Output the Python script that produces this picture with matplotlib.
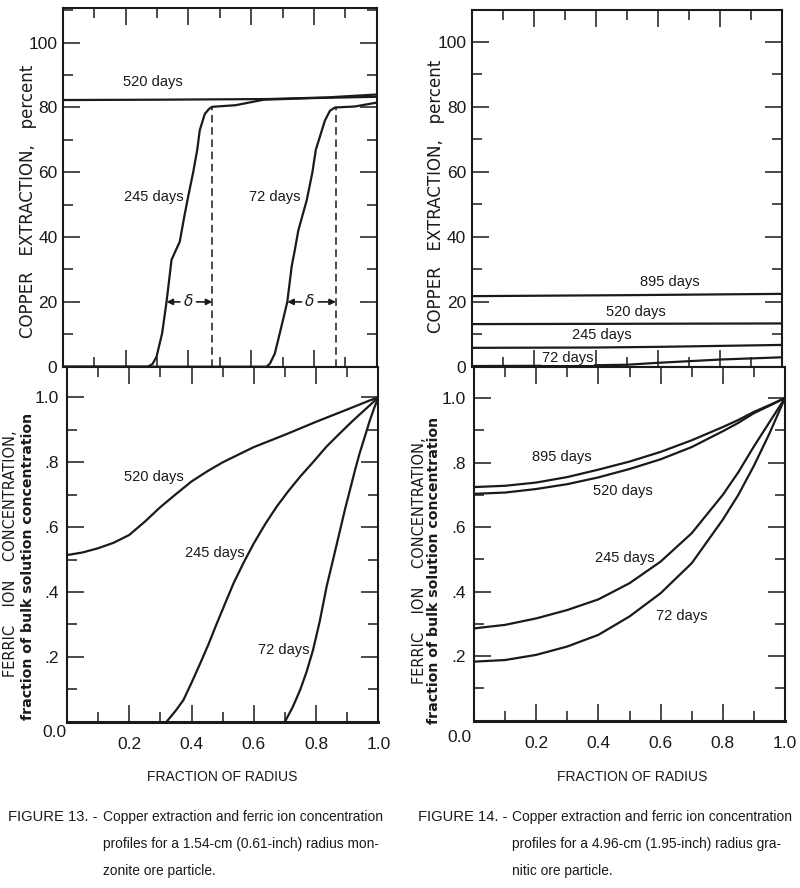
import matplotlib
matplotlib.use("Agg")
import matplotlib.pyplot as plt
from matplotlib.ticker import MultipleLocator, FixedLocator, FixedFormatter, NullFormatter

# ---------------- data ----------------
# Figure 13 (left) - copper extraction, percent
f13_cu_520_x = [0.0, 0.3, 0.65, 0.84, 1.0]
f13_cu_520_y = [82.3, 82.4, 82.6, 83.1, 84.0]
f13_cu_245_x = [0.0, 0.27, 0.285, 0.298, 0.316, 0.33, 0.346, 0.36, 0.372, 0.386, 0.399,
                0.415, 0.428, 0.436, 0.452, 0.465, 0.475, 0.55, 0.64, 0.8, 1.0]
f13_cu_245_y = [0.0, 0.0, 0.8, 3.0, 10.3, 20.0, 33.0, 36.0, 38.5, 46.0, 52.5,
                60.0, 67.0, 73.0, 78.0, 79.5, 80.2, 80.7, 82.4, 82.9, 83.3]
f13_cu_72_x = [0.0, 0.649, 0.66, 0.675, 0.691, 0.715, 0.729, 0.739, 0.75, 0.777, 0.795,
               0.806, 0.819, 0.835, 0.851, 0.867, 0.93, 1.0]
f13_cu_72_y = [0.0, 0.0, 1.0, 4.0, 10.3, 20.0, 31.0, 36.0, 42.0, 51.4, 60.0,
               67.0, 71.0, 76.0, 79.0, 80.0, 80.3, 81.5]
f13_delta_245 = (0.33, 0.476)   # reaction-zone width, 245 days
f13_delta_72 = (0.715, 0.87)    # reaction-zone width, 72 days

# Figure 13 (left) - ferric ion concentration, fraction of bulk
f13_fe_520_x = [0.0, 0.05, 0.1, 0.15, 0.2, 0.25, 0.3, 0.35, 0.4, 0.45, 0.5, 0.6, 0.7, 0.8, 0.9, 0.97, 1.0]
f13_fe_520_y = [0.514, 0.522, 0.535, 0.552, 0.576, 0.617, 0.662, 0.702, 0.741, 0.772, 0.80,
                0.847, 0.885, 0.925, 0.963, 0.99, 1.0]
f13_fe_245_x = [0.32, 0.35, 0.374, 0.40, 0.428, 0.455, 0.48, 0.508, 0.535, 0.567, 0.60, 0.637,
                0.674, 0.71, 0.749, 0.79, 0.834, 0.877, 0.92, 0.96, 1.0]
f13_fe_245_y = [0.0, 0.035, 0.067, 0.12, 0.18, 0.24, 0.30, 0.365, 0.427, 0.49, 0.55, 0.61,
                0.664, 0.71, 0.756, 0.80, 0.849, 0.89, 0.93, 0.965, 1.0]
f13_fe_72_x = [0.70, 0.725, 0.749, 0.77, 0.79, 0.812, 0.834, 0.856, 0.877, 0.893, 0.909,
               0.925, 0.94, 0.957, 0.973, 0.987, 1.0]
f13_fe_72_y = [0.0, 0.045, 0.098, 0.155, 0.22, 0.31, 0.417, 0.505, 0.59, 0.655, 0.715,
               0.775, 0.828, 0.88, 0.93, 0.968, 1.0]

# Figure 14 (right) - copper extraction, percent
f14_cu_895_x = [0.0, 0.5, 1.0]
f14_cu_895_y = [21.7, 22.0, 22.4]
f14_cu_520_x = [0.0, 0.5, 1.0]
f14_cu_520_y = [13.1, 13.2, 13.3]
f14_cu_245_x = [0.0, 0.4, 0.6, 0.8, 1.0]
f14_cu_245_y = [5.8, 5.9, 6.1, 6.4, 6.7]
f14_cu_72_x = [0.0, 0.3, 0.5, 0.6, 0.7, 0.8, 1.0]
f14_cu_72_y = [0.2, 0.3, 0.6, 1.2, 1.7, 2.2, 2.9]

# Figure 14 (right) - ferric ion concentration
f14_fe_x = [0.0, 0.1, 0.2, 0.3, 0.4, 0.5, 0.6, 0.7, 0.8, 0.85, 0.9, 0.95, 1.0]
f14_fe_895_y = [0.724, 0.728, 0.738, 0.755, 0.778, 0.803, 0.833, 0.869, 0.91, 0.932, 0.957, 0.978, 1.0]
f14_fe_520_y = [0.703, 0.707, 0.718, 0.733, 0.754, 0.78, 0.81, 0.848, 0.897, 0.923, 0.953, 0.976, 1.0]
f14_fe_245_y = [0.286, 0.297, 0.317, 0.343, 0.376, 0.426, 0.493, 0.581, 0.70, 0.77, 0.85, 0.925, 1.0]
f14_fe_72_y = [0.183, 0.188, 0.204, 0.23, 0.266, 0.323, 0.395, 0.488, 0.623, 0.70, 0.79, 0.89, 1.0]

cu_ticks = [0, 20, 40, 60, 80, 100]
cu_ticklabels = ["0", "20", "40", "60", "80", "100"]
fe_ticks = [0.2, 0.4, 0.6, 0.8, 1.0]
fe_ticklabels = [".2", ".4", ".6", ".8", "1.0"]
x_ticks = [0.2, 0.4, 0.6, 0.8, 1.0]
x_ticklabels = ["0.2", "0.4", "0.6", "0.8", "1.0"]

# ---------------- styling ----------------
NARROW = ["Liberation Sans", "DejaVu Sans"]
SANS = ["Liberation Sans", "DejaVu Sans"]
WIDE = ["DejaVu Sans"]
INK = "#1a1a1a"
LW = 1.6

W, H = 800, 888
fig = plt.figure(figsize=(W / 100, H / 100), dpi=100)


def rect(x0, x1, ytop, ybot):
    return [x0 / W, 1 - ybot / H, (x1 - x0) / W, (ybot - ytop) / H]


def style_axes(ax, top_panel):
    for s in ax.spines.values():
        s.set_linewidth(1.5)
        s.set_color(INK)
    if not top_panel:
        ax.spines["bottom"].set_linewidth(2.2)
    ax.set_xlim(0, 1)
    ax.xaxis.set_major_locator(MultipleLocator(0.2))
    ax.xaxis.set_minor_locator(MultipleLocator(0.1))
    ax.tick_params(which="both", direction="in", top=True, right=True, colors=INK,
                   width=1.1)
    ax.tick_params(which="major", length=12)
    ax.tick_params(which="minor", length=7)


def copper_panel(ax, top):
    style_axes(ax, True)
    ax.set_ylim(0, top)
    ax.yaxis.set_major_locator(FixedLocator(cu_ticks))
    ax.yaxis.set_major_formatter(FixedFormatter(cu_ticklabels))
    ax.yaxis.set_minor_locator(MultipleLocator(10))
    ax.xaxis.set_major_formatter(NullFormatter())
    ax.tick_params(axis="y", which="major", labelsize=12.5, pad=4, labelcolor=INK)
    for lab in ax.get_yticklabels():
        lab.set_fontfamily(NARROW)


def ferric_panel(ax, top):
    style_axes(ax, False)
    ax.set_ylim(0, top)
    ax.yaxis.set_major_locator(FixedLocator(fe_ticks))
    ax.yaxis.set_major_formatter(FixedFormatter(fe_ticklabels))
    ax.yaxis.set_minor_locator(MultipleLocator(0.1))
    ax.xaxis.set_major_locator(FixedLocator(x_ticks))
    ax.xaxis.set_major_formatter(FixedFormatter(x_ticklabels))
    ax.xaxis.set_minor_locator(MultipleLocator(0.1))
    ax.tick_params(axis="y", which="major", labelsize=12.5, pad=6, labelcolor=INK)
    ax.tick_params(axis="x", which="major", labelsize=12.5, pad=11, labelcolor=INK)
    for lab in ax.get_xticklabels() + ax.get_yticklabels():
        lab.set_fontfamily(NARROW)


def label(ax, x, y, s, **kw):
    ax.text(x, y, s, ha="center", va="center", fontsize=10.5, family=SANS, color=INK, **kw)


def delta(ax, x0, x1, xm, y):
    for end in (x0, x1):
        ax.annotate("", xy=(end, y), xytext=(xm, y),
                    arrowprops=dict(arrowstyle="-|>", lw=1.2, color=INK,
                                    shrinkA=6, shrinkB=0, mutation_scale=9))
    ax.text(xm, y, "δ", ha="center", va="center", fontsize=11, style="italic",
            family=WIDE, color=INK)


# ---------------- Figure 13 ----------------
ax1 = fig.add_axes(rect(63, 376.7, 8, 366.7))
copper_panel(ax1, 110.7)
ax1.plot(f13_cu_520_x, f13_cu_520_y, color=INK, lw=LW)
ax1.plot(f13_cu_245_x, f13_cu_245_y, color=INK, lw=LW)
ax1.plot(f13_cu_72_x, f13_cu_72_y, color=INK, lw=LW)
for xd in (f13_delta_245[1], f13_delta_72[1]):
    ax1.plot([xd, xd], [0, 80], color=INK, lw=1.1, ls=(0, (5, 3)))
delta(ax1, f13_delta_245[0], f13_delta_245[1], 0.399, 20)
delta(ax1, f13_delta_72[0], f13_delta_72[1], 0.787, 20)
label(ax1, 0.287, 88, "520 days")
label(ax1, 0.29, 52.5, "245 days")
label(ax1, 0.675, 52.5, "72 days")

ax2 = fig.add_axes(rect(67, 378.3, 366.7, 721.7))
ferric_panel(ax2, 1.095)
ax2.plot(f13_fe_520_x, f13_fe_520_y, color=INK, lw=LW)
ax2.plot(f13_fe_245_x, f13_fe_245_y, color=INK, lw=LW)
ax2.plot(f13_fe_72_x, f13_fe_72_y, color=INK, lw=LW)
label(ax2, 0.278, 0.754, "520 days")
label(ax2, 0.476, 0.52, "245 days")
label(ax2, 0.695, 0.22, "72 days")

# ---------------- Figure 14 ----------------
ax3 = fig.add_axes(rect(471.7, 782.3, 10, 366.7))
copper_panel(ax3, 109.7)
ax3.plot(f14_cu_895_x, f14_cu_895_y, color=INK, lw=LW)
ax3.plot(f14_cu_520_x, f14_cu_520_y, color=INK, lw=LW)
ax3.plot(f14_cu_245_x, f14_cu_245_y, color=INK, lw=LW)
ax3.plot(f14_cu_72_x, f14_cu_72_y, color=INK, lw=LW)
label(ax3, 0.637, 26.2, "895 days")
label(ax3, 0.53, 16.7, "520 days")
label(ax3, 0.42, 9.7, "245 days")
label(ax3, 0.31, 2.8, "72 days",
      bbox=dict(boxstyle="square,pad=0.05", fc="white", ec="none"))

ax4 = fig.add_axes(rect(474, 785, 366.7, 720.7))
ferric_panel(ax4, 1.097)
ax4.plot(f14_fe_x, f14_fe_895_y, color=INK, lw=LW)
ax4.plot(f14_fe_x, f14_fe_520_y, color=INK, lw=LW)
ax4.plot(f14_fe_x, f14_fe_245_y, color=INK, lw=LW)
ax4.plot(f14_fe_x, f14_fe_72_y, color=INK, lw=LW)
label(ax4, 0.282, 0.817, "895 days")
label(ax4, 0.478, 0.713, "520 days")
label(ax4, 0.486, 0.504, "245 days")
label(ax4, 0.668, 0.325, "72 days")


# ---------------- axis titles, captions ----------------
def ftext(x, y, s, **kw):
    fig.text(x / W, 1 - y / H, s, color=INK, **kw)


# "0.0" corner labels
ftext(54, 732, "0.0", ha="center", va="center", fontsize=12.5, family=NARROW)
ftext(459, 737, "0.0", ha="center", va="center", fontsize=12.5, family=NARROW)

for cx, cy in [(28, 201), (436, 196)]:
    ftext(cx, cy, "COPPER   EXTRACTION,   percent", rotation=90, ha="center",
          va="center", fontsize=12, family=WIDE)
for (x1, y1), (x2, y2) in [((11, 554), (28, 566)), ((419, 561), (434, 570))]:
    ftext(x1, y1, "FERRIC    ION    CONCENTRATION,", rotation=90, ha="center",
          va="center", fontsize=10.5, family=WIDE)
    ftext(x2, y2, "fraction of bulk solution concentration", rotation=90,
          ha="center", va="center", fontsize=10.2, family=WIDE, fontweight="bold")

ftext(222, 777, "FRACTION OF RADIUS", ha="center", va="center", fontsize=10, family=NARROW)
ftext(632, 777, "FRACTION OF RADIUS", ha="center", va="center", fontsize=10, family=NARROW)

cap_kw = dict(ha="left", va="baseline", fontsize=9.9, family=NARROW)
fig_kw = dict(ha="left", va="baseline", fontsize=10.6, family=NARROW)
ftext(8, 821, "FIGURE 13. -", **fig_kw)
ftext(103, 821, "Copper extraction and ferric ion concentration", **cap_kw)
ftext(103, 848, "profiles for a 1.54-cm (0.61-inch) radius mon-", **cap_kw)
ftext(103, 875, "zonite ore particle.", **cap_kw)
ftext(418, 821, "FIGURE 14. -", **fig_kw)
ftext(512, 821, "Copper extraction and ferric ion concentration", **cap_kw)
ftext(512, 848, "profiles for a 4.96-cm (1.95-inch) radius gra-", **cap_kw)
ftext(512, 875, "nitic ore particle.", **cap_kw)

fig.savefig("out.png", dpi=100, facecolor="white")
